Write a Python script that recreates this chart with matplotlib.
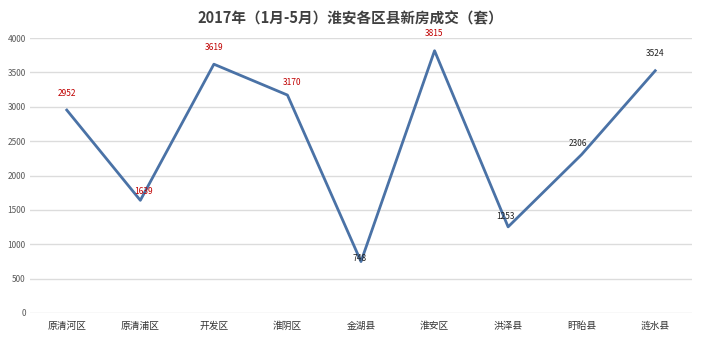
import numpy as np
import matplotlib.pyplot as plt

plt.rcParams['font.family'] = ['Noto Sans CJK SC', 'DejaVu Sans']

districts = ['原清河区', '原清浦区', '开发区', '淮阴区', '金湖县', '淮安区', '洪泽县', '盱眙县', '涟水县']
sales = [2952, 1639, 3619, 3170, 748, 3815, 1253, 2306, 3524]
label_red = [True, True, True, True, False, True, False, False, False]
# label offsets in points (dx, dy)
offsets = [(0, 9), (2, 3), (0, 9), (3, 6), (-1, -1), (0, 9), (-2, 4), (-3, 5), (0, 9)]

fig = plt.figure(figsize=(7.01, 3.40), dpi=100)
ax = fig.add_axes([30 / 701, 27 / 340, 662 / 701, 275 / 340])

x = np.arange(len(districts))
ax.plot(x, sales, color='#4a72a6', lw=2.0, zorder=3)

for i, v in enumerate(sales):
    dx, dy = offsets[i]
    ax.annotate(str(v), (x[i], v), xytext=(dx, dy), textcoords='offset points',
                ha='center', va='bottom', fontsize=6,
                color='#c00000' if label_red[i] else '#222222', zorder=4)

ax.set_xlim(-0.5, len(districts) - 0.5)
ax.set_ylim(0, 4000)
ax.set_yticks(np.arange(0, 4001, 500))
ax.set_xticks(x)
ax.set_xticklabels(districts, fontsize=7, color='#333333')
ax.tick_params(axis='y', labelsize=6, colors='#595959', length=0, pad=3)
ax.tick_params(axis='x', length=0, pad=6)
ax.grid(axis='y', color='#dcdcdc', lw=1)
ax.set_axisbelow(True)
for s in ax.spines.values():
    s.set_visible(False)

fig.text(0.5, 1 - 18 / 340, '2017年（1月-5月）淮安各区县新房成交（套）', ha='center', va='center',
         fontsize=10.5, fontweight='bold', color='#404040')

fig.savefig('out.png', dpi=100)
